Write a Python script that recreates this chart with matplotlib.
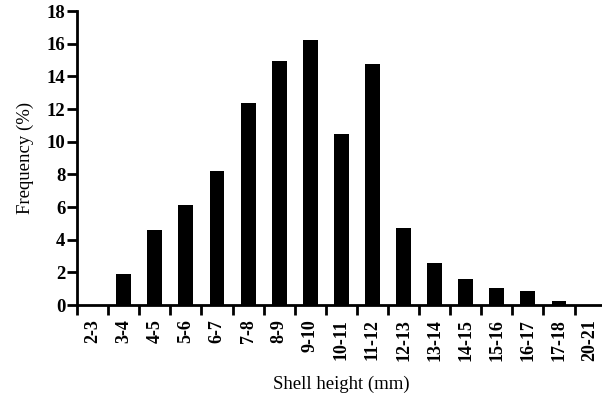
import numpy as np
import matplotlib
matplotlib.use("Agg")
import matplotlib.pyplot as plt
from matplotlib.ticker import FixedLocator

# Classes de hauteur de coquille et frequences (%)
classes = ["2-3", "3-4", "4-5", "5-6", "6-7", "7-8", "8-9", "9-10", "10-11",
           "11-12", "12-13", "13-14", "14-15", "15-16", "16-17", "17-18", "20-21"]
frequences = [0, 1.9, 4.6, 6.15, 8.2, 12.35, 14.95, 16.2, 10.45,
              14.75, 4.7, 2.6, 1.6, 1.02, 0.88, 0.26, 0]
y_ticks = [0, 2, 4, 6, 8, 10, 12, 14, 16, 18]

plt.rcParams['font.family'] = ['Liberation Serif', 'DejaVu Serif']

fig = plt.figure(figsize=(6.02, 4.0), dpi=100)
ax = fig.add_axes([0.128, 0.2375, 0.878, 0.735])

x = np.arange(len(classes))
ax.bar(x, frequences, width=0.48, color="black")

ax.set_xlim(-0.5, len(classes) - 0.5)
ax.set_ylim(0, 18)

# Graduations : traits entre les classes, etiquettes au centre
ax.set_xticks(x)
ax.set_xticklabels(classes, rotation=90, fontsize=13, fontweight="bold")
ax.xaxis.set_minor_locator(FixedLocator(np.arange(-0.5, len(classes), 1)))
ax.tick_params(axis="x", which="major", length=0, pad=10)
ax.tick_params(axis="x", which="minor", length=7.5, width=2, direction="out")

ax.set_yticks(y_ticks)
ax.set_yticklabels([str(v) for v in y_ticks], fontsize=13.5, fontweight="bold")
ax.tick_params(axis="y", length=7.5, width=2, direction="out", pad=1)

for s in ["top", "right"]:
    ax.spines[s].set_visible(False)
for s in ["left", "bottom"]:
    ax.spines[s].set_linewidth(2)

ax.set_xlabel("Shell height (mm)", fontsize=13.5, labelpad=11)
ax.set_ylabel("Frequency (%)", fontsize=13.5, labelpad=9)

fig.savefig("out.png", dpi=100)
